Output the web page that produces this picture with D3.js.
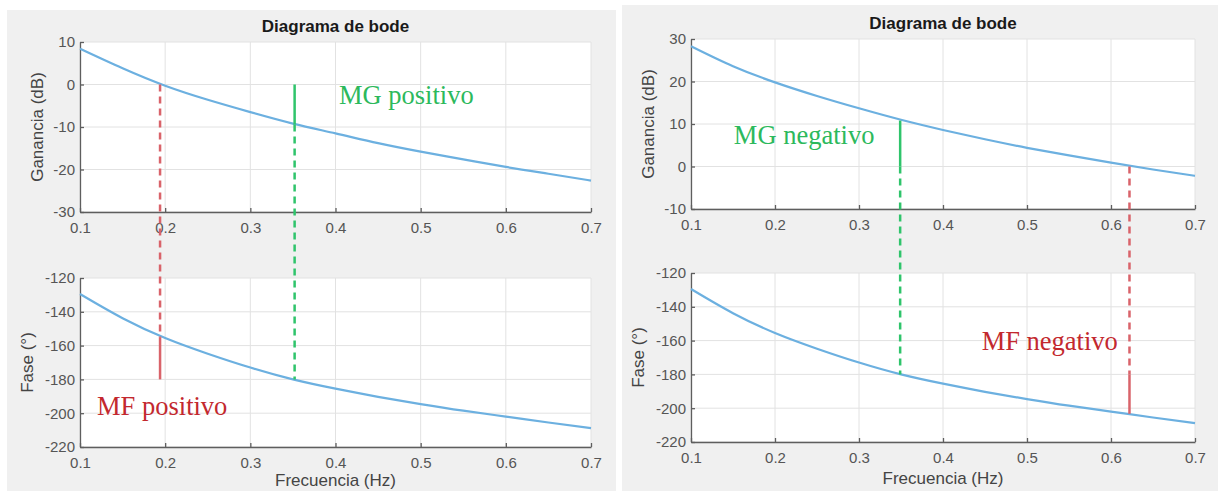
<!DOCTYPE html>
<html>
<head>
<meta charset="utf-8">
<script src="https://cdn.jsdelivr.net/npm/d3@7"></script>
<style>
  body { margin: 0; background: #fff; }
  svg { display: block; }
  .tick text { font-family: "Liberation Sans", Arial, sans-serif; font-size: 15px; fill: #555; }
  .eje path, .eje line { stroke: #5e5e5e; stroke-width: 1.3; }
  .rejilla line { stroke: #e2e2e2; stroke-width: 1; }
  .titulo { font-family: "Liberation Sans", Arial, sans-serif; font-size: 17px; font-weight: bold; fill: #1a1a1a; }
  .etiqueta { font-family: "Liberation Sans", Arial, sans-serif; font-size: 17px; fill: #444; }
  .nota { font-family: "Liberation Serif", "Times New Roman", serif; font-size: 26.5px; }
</style>
</head>
<body>
<svg id="grafico" width="1218" height="491"></svg>
<script>
const frecuencias = [0.1, 0.15, 0.2, 0.25, 0.3, 0.35, 0.4, 0.45, 0.5, 0.55, 0.6, 0.65, 0.7]
const gananciaPositivo = [8.4, 3.8, -0.3, -3.6, -6.5, -9.2, -11.5, -13.8, -15.8, -17.6, -19.4, -21.0, -22.6]
const gananciaNegativo = [28.3, 23.6, 19.8, 16.6, 13.7, 11.0, 8.6, 6.4, 4.4, 2.6, 0.9, -0.7, -2.2]
const fase = [-129.5, -143.8, -155.5, -164.8, -173, -180, -185.5, -190.3, -194.6, -198.5, -202, -205.5, -208.8]

const ticksFrecuencia = [0.1, 0.2, 0.3, 0.4, 0.5, 0.6, 0.7]
const ticksGananciaPos = [-30, -20, -10, 0, 10]
const ticksGananciaNeg = [-10, 0, 10, 20, 30]
const ticksFase = [-220, -200, -180, -160, -140, -120]

// margenes: [frecuencia, valor en la curva]
const mfPositivo = [0.194, -155]
const mgPositivo = [0.352, -9.4]
const mgNegativo = [0.349, 10.8]
const mfNegativo = [0.622, -203.3]

const verde = "#2fc46b"
const rojo = "#d9636a"
const verdeTexto = "#2cb95c"
const rojoTexto = "#c3282e"

const svg = d3.select("#grafico")

function crtajPanel(p) {
  svg.append("rect")
    .attr("x", p.fondo[0]).attr("y", p.fondo[1])
    .attr("width", p.fondo[2]).attr("height", p.fondo[3])
    .attr("fill", "#f0f0f0")

  const x = d3.scaleLinear().domain([0.1, 0.7]).range([p.x0, p.x1])
  const yG = d3.scaleLinear().domain(d3.extent(p.ticksG)).range([p.gBot, p.gTop])
  const yF = d3.scaleLinear().domain([-220, -120]).range([p.fBot, p.fTop])

  const ejes = [[yG, p.ticksG, p.gTop, p.gBot], [yF, ticksFase, p.fTop, p.fBot]]
  ejes.forEach(([y, ticksY, top, bot]) => {
    svg.append("rect")
      .attr("x", p.x0).attr("y", top)
      .attr("width", p.x1 - p.x0).attr("height", bot - top)
      .attr("fill", "#fff")

    const rejilla = svg.append("g").attr("class", "rejilla")
    rejilla.selectAll(".v").data(ticksFrecuencia).enter().append("line")
      .attr("x1", d => x(d)).attr("x2", d => x(d))
      .attr("y1", top).attr("y2", bot)
    rejilla.selectAll(".h").data(ticksY).enter().append("line")
      .attr("x1", p.x0).attr("x2", p.x1)
      .attr("y1", d => y(d)).attr("y2", d => y(d))

    svg.append("g").attr("class", "eje")
      .attr("transform", `translate(0, ${bot})`)
      .call(d3.axisBottom(x).tickValues(ticksFrecuencia).tickFormat(d3.format(".1f"))
        .tickSizeInner(-4).tickSizeOuter(0).tickPadding(10))
    svg.append("g").attr("class", "eje")
      .attr("transform", `translate(${p.x0}, 0)`)
      .call(d3.axisLeft(y).tickValues(ticksY).tickFormat(d => String(d))
        .tickSizeInner(-4).tickSizeOuter(0).tickPadding(5))
  })

  // curvas
  const lineaG = d3.line().x((d, i) => x(frecuencias[i])).y(d => yG(d)).curve(d3.curveNatural)
  const lineaF = d3.line().x((d, i) => x(frecuencias[i])).y(d => yF(d)).curve(d3.curveNatural)
  svg.append("path").datum(p.ganancia).attr("d", lineaG)
    .attr("fill", "none").attr("stroke", "#6cb0e0").attr("stroke-width", 2.2)
  svg.append("path").datum(fase).attr("d", lineaF)
    .attr("fill", "none").attr("stroke", "#6cb0e0").attr("stroke-width", 2.2)

  // margenes
  p.segmentos.forEach(s => {
    svg.append("line")
      .attr("x1", x(s.f)).attr("x2", x(s.f))
      .attr("y1", s.y1).attr("y2", s.y2)
      .attr("stroke", s.color).attr("stroke-width", 2.5)
      .attr("stroke-dasharray", s.discontinua ? "7,5" : null)
  })

  p.notas.forEach(n => {
    svg.append("text").attr("class", "nota")
      .attr("x", x(n.f)).attr("y", n.y)
      .attr("fill", n.color).text(n.texto)
  })

  // textos
  const cx = (p.x0 + p.x1) / 2
  svg.append("text").attr("class", "titulo")
    .attr("x", cx).attr("y", p.gTop - 10).attr("text-anchor", "middle")
    .text("Diagrama de bode")
  svg.append("text").attr("class", "etiqueta")
    .attr("x", cx).attr("y", Math.min(p.fBot + 42, 486)).attr("text-anchor", "middle")
    .text("Frecuencia (Hz)")
  svg.append("text").attr("class", "etiqueta")
    .attr("transform", `translate(${p.x0 - 37}, ${(p.gTop + p.gBot) / 2}) rotate(-90)`)
    .attr("text-anchor", "middle")
    .text("Ganancia (dB)")
  svg.append("text").attr("class", "etiqueta")
    .attr("transform", `translate(${p.x0 - 47}, ${(p.fTop + p.fBot) / 2}) rotate(-90)`)
    .attr("text-anchor", "middle")
    .text("Fase (°)")
}

// panel izquierdo
{
  const p = { fondo: [7, 10, 609, 481], x0: 80, x1: 591, gTop: 42, gBot: 212, fTop: 278, fBot: 447,
    ganancia: gananciaPositivo, ticksG: ticksGananciaPos }
  const yG = d3.scaleLinear().domain([-30, 10]).range([p.gBot, p.gTop])
  const yF = d3.scaleLinear().domain([-220, -120]).range([p.fBot, p.fTop])
  p.segmentos = [
    { f: mfPositivo[0], y1: yG(0), y2: yF(mfPositivo[1]), color: rojo, discontinua: true },
    { f: mfPositivo[0], y1: yF(mfPositivo[1]), y2: yF(-180), color: rojo, discontinua: false },
    { f: mgPositivo[0], y1: yG(0), y2: yG(mgPositivo[1]), color: verde, discontinua: false },
    { f: mgPositivo[0], y1: yG(mgPositivo[1]), y2: yF(-180), color: verde, discontinua: true },
  ]
  p.notas = [
    { texto: "MG positivo", f: 0.404, y: yG(-4.6), color: verdeTexto },
    { texto: "MF positivo", f: 0.12, y: yF(-201), color: rojoTexto },
  ]
  crtajPanel(p)
}

// panel derecho
{
  const p = { fondo: [622, 5, 596, 486], x0: 691, x1: 1195, gTop: 39, gBot: 209, fTop: 273, fBot: 442,
    ganancia: gananciaNegativo, ticksG: ticksGananciaNeg }
  const yG = d3.scaleLinear().domain([-10, 30]).range([p.gBot, p.gTop])
  const yF = d3.scaleLinear().domain([-220, -120]).range([p.fBot, p.fTop])
  p.segmentos = [
    { f: mgNegativo[0], y1: yG(mgNegativo[1]), y2: yG(0), color: verde, discontinua: false },
    { f: mgNegativo[0], y1: yG(0), y2: yF(-180), color: verde, discontinua: true },
    { f: mfNegativo[0], y1: yG(0), y2: yF(-180), color: rojo, discontinua: true },
    { f: mfNegativo[0], y1: yF(-180), y2: yF(mfNegativo[1]), color: rojo, discontinua: false },
  ]
  p.notas = [
    { texto: "MG negativo", f: 0.151, y: yG(5.3), color: verdeTexto },
    { texto: "MF negativo", f: 0.446, y: yF(-165.6), color: rojoTexto },
  ]
  crtajPanel(p)
}
</script>
</body>
</html>
